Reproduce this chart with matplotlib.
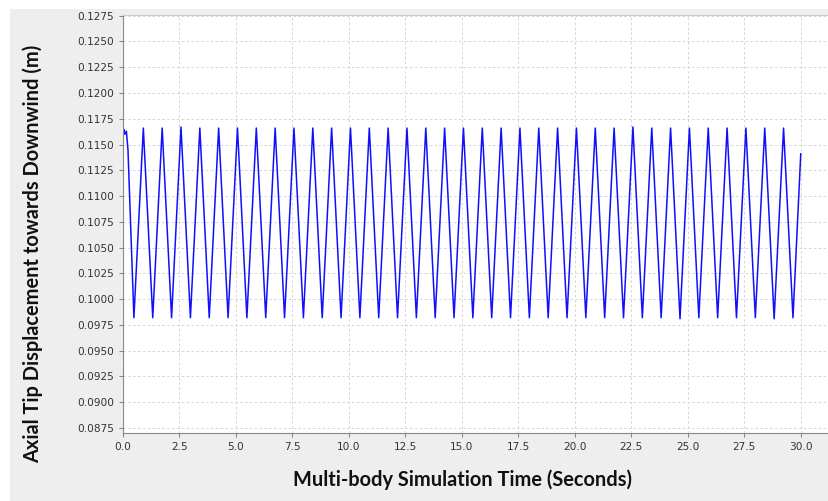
from matplotlib import pyplot as plt
from matplotlib.patches import Rectangle
import numpy as np

# Valores (tempo em s, deslocamento em m)
t_inicio = [0.00, 0.03, 0.08, 0.15, 0.22]
y_inicio = [0.1156, 0.1165, 0.1160, 0.1163, 0.1145]

t_picos = [0.900, 1.734, 2.567, 3.401, 4.234, 5.068, 5.901, 6.735, 7.568,
           8.402, 9.235, 10.069, 10.902, 11.736, 12.569, 13.403, 14.236,
           15.070, 15.903, 16.737, 17.570, 18.404, 19.237, 20.071, 20.904,
           21.738, 22.571, 23.405, 24.238, 25.072, 25.905, 26.739, 27.572,
           28.406, 29.239]
y_picos = [0.1166, 0.1166, 0.1167, 0.1166, 0.1166, 0.1166, 0.1166, 0.1166, 0.1166,
           0.1166, 0.1166, 0.1166, 0.1166, 0.1166, 0.1166, 0.1166, 0.1166,
           0.1166, 0.1166, 0.1166, 0.1166, 0.1166, 0.1166, 0.1166, 0.1166,
           0.1166, 0.1167, 0.1166, 0.1166, 0.1166, 0.1166, 0.1166, 0.1166,
           0.1166, 0.1166]

t_vales = [0.483, 1.317, 2.150, 2.984, 3.817, 4.651, 5.484, 6.318, 7.151,
           7.985, 8.818, 9.652, 10.485, 11.319, 12.152, 12.986, 13.819,
           14.653, 15.486, 16.320, 17.153, 17.987, 18.820, 19.654, 20.487,
           21.321, 22.154, 22.988, 23.821, 24.655, 25.488, 26.322, 27.155,
           27.989, 28.822, 29.656]
y_vales = [0.0982, 0.0982, 0.0982, 0.0982, 0.0982, 0.0982, 0.0982, 0.0982, 0.0982,
           0.0982, 0.0982, 0.0982, 0.0982, 0.0982, 0.0982, 0.0982, 0.0982,
           0.0982, 0.0982, 0.0982, 0.0982, 0.0982, 0.0982, 0.0982, 0.0982,
           0.0982, 0.0982, 0.0982, 0.0982, 0.0981, 0.0982, 0.0982, 0.0982,
           0.0982, 0.0981, 0.0982]

t_fim = [30.0]
y_fim = [0.1141]

x_ticks = [0.0, 2.5, 5.0, 7.5, 10.0, 12.5, 15.0, 17.5, 20.0, 22.5, 25.0, 27.5, 30.0]
y_ticks = [0.0875, 0.0900, 0.0925, 0.0950, 0.0975, 0.1000, 0.1025, 0.1050, 0.1075,
           0.1100, 0.1125, 0.1150, 0.1175, 0.1200, 0.1225, 0.1250, 0.1275]

# junta tudo em ordem de tempo
pontos = sorted(zip(t_inicio + t_picos + t_vales + t_fim,
                    y_inicio + y_picos + y_vales + y_fim))
tempo = [p[0] for p in pontos]
desloc = [p[1] for p in pontos]

W, H = 829, 501
fig = plt.figure(figsize=(W / 100, H / 100), dpi=100)
fig.patch.set_facecolor('white')
fig.patches.append(Rectangle((10 / W, 0), 1, 1 - 9 / H, transform=fig.transFigure,
                             facecolor='#eeeeee', edgecolor='none', zorder=-5))

ax = fig.add_axes([123 / W, (H - 432.7) / H, 1 - 123 / W, (432.7 - 15) / H])
ax.set_zorder(5)
ax.set_facecolor('white')
ax.plot(tempo, desloc, color='#1010ff', linewidth=1.1, solid_joinstyle='round')

ax.set_xlim(0, 31.25)
ax.set_ylim(0.08704, 0.12757)
ax.set_xticks(x_ticks)
ax.set_xticklabels(['{:.1f}'.format(v) for v in x_ticks])
ax.set_yticks(y_ticks)
ax.set_yticklabels(['{:.4f}'.format(v) for v in y_ticks])
ax.tick_params(labelsize=7.6, colors='#888888', labelcolor='#333333',
               length=3, width=0.8, direction='out')
ax.grid(True, color='#d4d4d4', linestyle=(0, (2.5, 2.5)), linewidth=0.7)

ax.spines['right'].set_visible(False)
ax.spines['top'].set_color('#cccccc')
ax.spines['left'].set_color('#888888')
ax.spines['bottom'].set_color('#888888')

fig.text(463 / W, 1 - 480 / H, 'Multi-body Simulation Time (Seconds)',
         fontfamily='Lato', fontweight='bold', fontsize=14.4, color='#111111',
         ha='center', va='center')
fig.text(33 / W, 1 - 254 / H, 'Axial Tip Displacement towards Downwind (m)',
         fontfamily='Lato', fontweight='bold', fontsize=14.4, color='#111111',
         ha='center', va='center', rotation=90)

fig.savefig('out.png', dpi=100, facecolor=fig.get_facecolor())
